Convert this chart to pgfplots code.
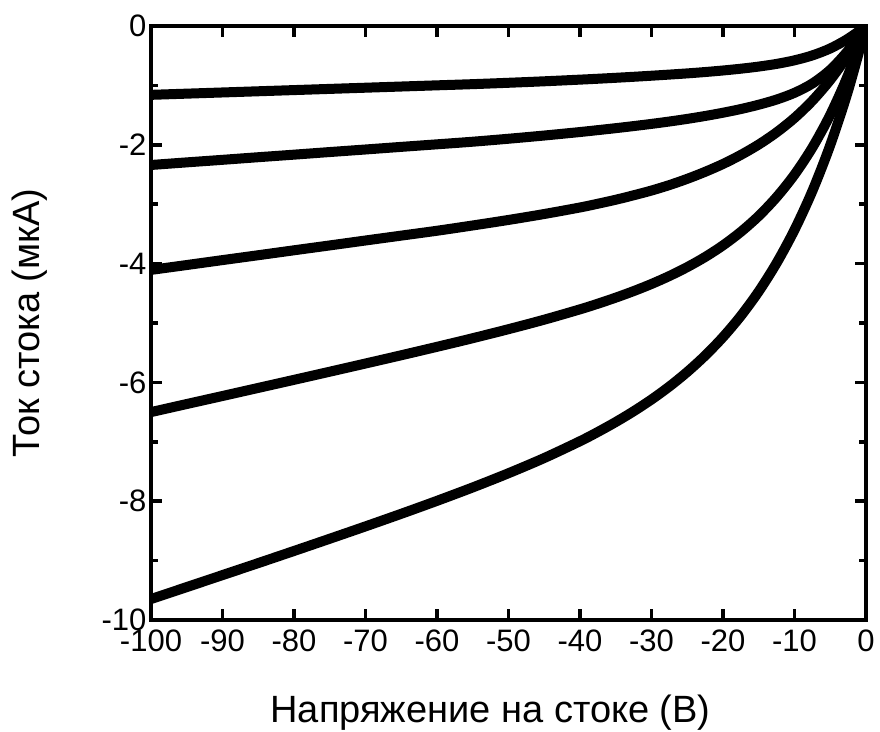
\documentclass[border=0pt]{standalone}
\usepackage{fontspec}
\setmainfont{Liberation Sans}
\usepackage{pgfplots}
\pgfplotsset{compat=1.18}
\begin{document}
\begin{tikzpicture}
\useasboundingbox (0,0) rectangle (880pt,731pt);
\begin{axis}[
  at={(151pt,111pt)}, anchor=south west,
  scale only axis, width=715pt, height=594pt,
  xmin=-100, xmax=0, ymin=-10, ymax=0,
  xtick={-100,-90,...,0},
  ytick={-10,-8,...,0},
  minor ytick={-9,-7,-5,-3,-1},
  tick align=inside,
  major tick length=11pt, minor tick length=7pt,
  every tick/.style={black, line width=3.5pt},
  axis line style={line width=3.5pt},
  xticklabel pos=lower, yticklabel pos=left,
  xtick pos=both, ytick pos=both,
  /pgf/number format/assume math mode=true,
  tick label style={font=\fontsize{31}{36}\selectfont},
  xticklabel style={yshift=-6pt},
  yticklabel style={xshift=-1pt},
  label style={font=\fontsize{38}{44}\selectfont},
  xlabel={Напряжение на стоке (В)},
  ylabel={Ток стока (мкА)},
  xlabel style={at={(axis description cs:0.5,0)}, anchor=center, yshift=-93pt, xshift=-18pt},
  ylabel style={at={(axis description cs:0,0.5)}, anchor=center, yshift=121pt},
]
\addplot[black, line width=10pt, smooth, line join=round] coordinates {
(-100,-1.159) (-95,-1.139) (-90,-1.119) (-85,-1.099) (-80,-1.079) (-75,-1.059) (-70,-1.039) (-65,-1.019) (-60,-0.999) (-55,-0.979) (-50,-0.956) (-45,-0.931) (-40,-0.903) (-37.5,-0.888) (-35,-0.872) (-32.5,-0.855) (-30,-0.837) (-27.5,-0.818) (-25,-0.798) (-22.5,-0.775) (-20,-0.749) (-17.5,-0.719) (-15,-0.683) (-12.5,-0.638) (-10,-0.578) (-7.5,-0.495) (-5,-0.378) (-2.5,-0.213) (0,0)};
\addplot[black, line width=10pt, smooth, line join=round] coordinates {
(-100,-2.34) (-95,-2.296) (-90,-2.253) (-85,-2.209) (-80,-2.166) (-75,-2.122) (-70,-2.079) (-65,-2.035) (-60,-1.992) (-55,-1.948) (-50,-1.898) (-45,-1.844) (-40,-1.785) (-37.5,-1.753) (-35,-1.72) (-32.5,-1.685) (-30,-1.648) (-27.5,-1.608) (-25,-1.564) (-22.5,-1.515) (-20,-1.46) (-17.5,-1.398) (-15,-1.325) (-12.5,-1.238) (-10,-1.125) (-7.5,-0.968) (-5,-0.738) (-2.5,-0.413) (0,0)};
\addplot[black, line width=10pt, smooth, line join=round] coordinates {
(-100,-4.106) (-95,-4.024) (-90,-3.941) (-85,-3.859) (-80,-3.776) (-75,-3.694) (-70,-3.611) (-65,-3.529) (-60,-3.447) (-55,-3.358) (-50,-3.265) (-45,-3.165) (-40,-3.055) (-37.5,-2.992) (-35,-2.925) (-32.5,-2.85) (-30,-2.77) (-27.5,-2.678) (-25,-2.573) (-22.5,-2.455) (-20,-2.323) (-17.5,-2.17) (-15,-1.995) (-12.5,-1.79) (-10,-1.548) (-7.5,-1.258) (-5,-0.908) (-2.5,-0.488) (0,0)};
\addplot[black, line width=10pt, smooth, line join=round] coordinates {
(-100,-6.5) (-95,-6.364) (-90,-6.229) (-85,-6.093) (-80,-5.957) (-75,-5.82) (-70,-5.682) (-65,-5.543) (-60,-5.401) (-55,-5.256) (-50,-5.104) (-45,-4.944) (-40,-4.77) (-37.5,-4.675) (-35,-4.573) (-32.5,-4.463) (-30,-4.343) (-27.5,-4.209) (-25,-4.059) (-22.5,-3.889) (-20,-3.693) (-17.5,-3.465) (-15,-3.198) (-12.5,-2.88) (-10,-2.502) (-7.5,-2.046) (-5,-1.494) (-2.5,-0.822) (0,0)};
\addplot[black, line width=10pt, smooth, line join=round] coordinates {
(-100,-9.647) (-95,-9.446) (-90,-9.244) (-85,-9.042) (-80,-8.838) (-75,-8.632) (-70,-8.424) (-65,-8.212) (-60,-7.994) (-55,-7.768) (-50,-7.529) (-45,-7.273) (-40,-6.99) (-37.5,-6.834) (-35,-6.667) (-32.5,-6.486) (-30,-6.288) (-27.5,-6.069) (-25,-5.824) (-22.5,-5.549) (-20,-5.237) (-17.5,-4.88) (-15,-4.468) (-12.5,-3.99) (-10,-3.432) (-7.5,-2.777) (-5,-2.004) (-2.5,-1.088) (0,0)};
\end{axis}
\end{tikzpicture}
\end{document}
